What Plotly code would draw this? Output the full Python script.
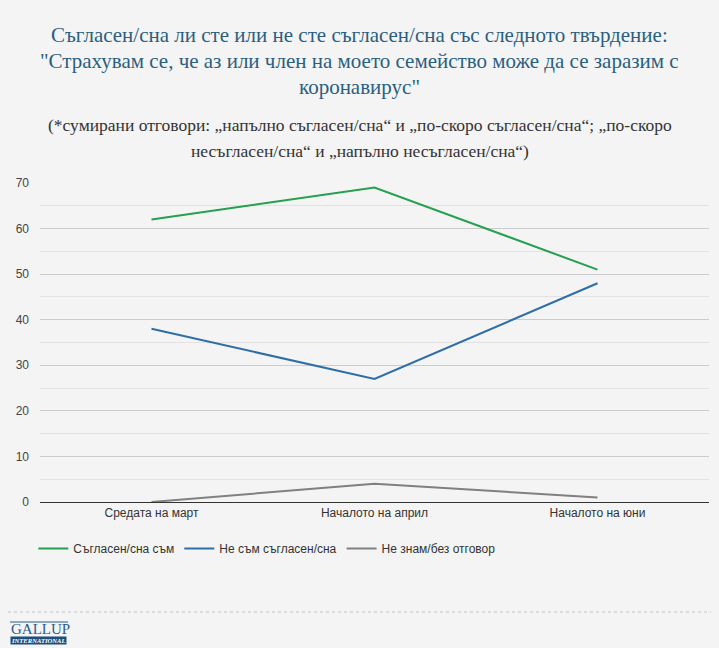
import plotly.graph_objects as go

periods = ["Средата на март", "Началото на април", "Началото на юни"]
agree = [62, 69, 51]
disagree = [38, 27, 48]
dont_know = [0, 4, 1]

series_names = ["Съгласен/сна съм", "Не съм съгласен/сна", "Не знам/без отговор"]
series_colors = ["#24a04e", "#2e6ea6", "#808080"]

title_lines = [
    "Съгласен/сна ли сте или не сте съгласен/сна със следното твърдение:",
    "\"Страхувам се, че аз или член на моето семейство може да се заразим с",
    "коронавирус\"",
]
subtitle_lines = [
    "(*сумирани отговори: „напълно съгласен/сна“ и „по-скоро съгласен/сна“; „по-скоро",
    "несъгласен/сна“ и „напълно несъгласен/сна“)",
]

W, H = 719, 648
ML, MR, MT, MB = 40, 10, 183, 146
plot_h = H - MT - MB
plot_w = W - ML - MR


def py(pixel_y):
    # pixel row -> paper y
    return (H - MB - pixel_y) / plot_h


def px(pixel_x):
    return (pixel_x - ML) / plot_w


fig = go.Figure()
for name, vals, col in zip(series_names, [agree, disagree, dont_know], series_colors):
    fig.add_trace(go.Scatter(x=periods, y=vals, name=name, mode="lines",
                             line=dict(color=col, width=2)))

annotations = []
for i, line in enumerate(title_lines):
    annotations.append(dict(text=line, x=px(359.5), xref="paper", y=py(35 + 26 * i), yref="paper",
                            xanchor="center", yanchor="middle", showarrow=False,
                            font=dict(family="Liberation Serif", size=21, color="#2a5f80")))
for i, line in enumerate(subtitle_lines):
    annotations.append(dict(text=line, x=px(359.5), xref="paper", y=py(125 + 26 * i), yref="paper",
                            xanchor="center", yanchor="middle", showarrow=False,
                            font=dict(family="Liberation Serif", size=17.5, color="#333333")))

# logo
annotations.append(dict(text="GALLUP", x=px(9), xref="paper", y=py(629), yref="paper",
                        xanchor="left", yanchor="middle", showarrow=False,
                        font=dict(family="Liberation Serif", size=15, color="#2b5c8a")))
annotations.append(dict(text="<b><i>INTERNATIONAL</i></b>", x=px(10), xref="paper", y=py(640), yref="paper",
                        xanchor="left", yanchor="middle", showarrow=False, bgcolor="#1f4e7a",
                        borderpad=0, font=dict(family="Liberation Serif", size=6.6, color="#ffffff")))

fig.update_layout(
    width=W, height=H,
    margin=dict(l=ML, r=MR, t=MT, b=MB),
    paper_bgcolor="#f4f4f4", plot_bgcolor="#f4f4f4",
    font=dict(family="Arial", size=12, color="#444444"),
    showlegend=True,
    legend=dict(orientation="h", x=-0.01, xanchor="left", y=py(534), yanchor="top",
                font=dict(size=12, color="#333333"), bgcolor="rgba(0,0,0,0)",
                itemwidth=30),
    annotations=annotations,
    shapes=[
        dict(type="line", xref="paper", yref="paper", x0=px(8), x1=px(711),
             y0=py(612), y1=py(612), line=dict(color="#c4c4c4", width=1, dash="dot")),
        dict(type="line", xref="paper", yref="paper", x0=px(10), x1=px(68),
             y0=py(622), y1=py(622), line=dict(color="#2b5c8a", width=1)),
    ],
    hovermode=False,
)
fig.update_xaxes(range=[-0.5, 2.5], showgrid=False, showline=True, linecolor="#333333",
                 linewidth=1, ticks="", tickfont=dict(color="#333333", size=12), fixedrange=True)
fig.update_yaxes(range=[0, 70], dtick=10, showgrid=True, gridcolor="#cccccc", gridwidth=1,
                 zeroline=False, showline=False, ticks="", ticklabelstandoff=10,
                 tickfont=dict(color="#444444", size=12),
                 minor=dict(dtick=5, showgrid=True, gridcolor="#e2e2e2", gridwidth=1),
                 fixedrange=True)

fig.write_html("out.html", config={"displayModeBar": False},
               post_script="document.body.style.margin='0';document.body.style.background='#f4f4f4';")
